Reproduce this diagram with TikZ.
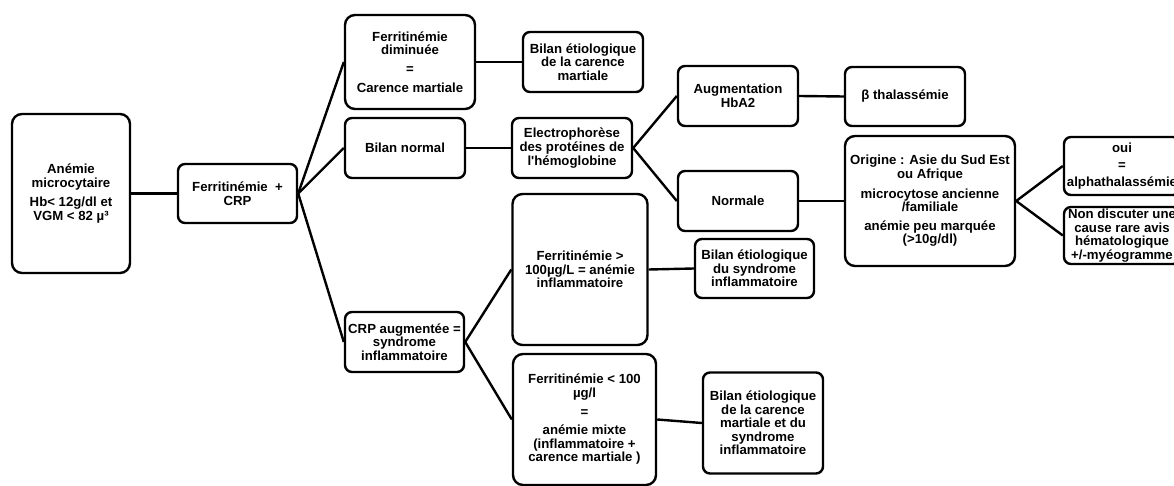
\documentclass[tikz,border=0pt]{standalone}
\usepackage{fontspec}
\setmainfont{Liberation Sans}

\begin{document}
\begin{tikzpicture}[x=1pt, y=-1pt,
  box/.style={draw, rounded corners=7pt, line width=2.4pt, align=center, inner sep=0pt,
    font=\bfseries\fontsize{13.2}{13.6}\selectfont},
  bigbox/.style={box, rounded corners=10pt},
  link/.style={line width=2.4pt}]

\clip (0,0) rectangle (1174,486);

\node[bigbox, minimum width=118, minimum height=159] (A) at (71,193.5) {Anémie\\microcytaire\\[6pt]Hb< 12g/dl et\\VGM < 82 µ³};
\node[box, minimum width=119, minimum height=59] (F) at (237.5,193.5) {Ferritinémie~ +\\CRP};


\node[bigbox, minimum width=130, minimum height=94] (F1) at (410,62) {Ferritinémie\\diminuée\\[5pt]=\\[5pt]Carence martiale};
\node[box, minimum width=120, minimum height=60] (F2) at (405,148) {Bilan normal};
\node[box, minimum width=119, minimum height=60] (F3) at (404.5,342) {CRP augmentée =\\syndrome\\inflammatoire};


\node[box, minimum width=120, minimum height=60] (B1) at (583,62) {Bilan étiologique\\de la carence\\martiale};
\node[box, minimum width=120, minimum height=60] (E) at (572,148) {Electrophorèse\\des protéines de\\l\textquotesingle hémoglobine};
\node[bigbox, minimum width=135, minimum height=151] (C1) at (580,269.5) {Ferritinémie >\\100µg/L = anémie\\inflammatoire};
\node[bigbox, minimum width=143, minimum height=131] (C2) at (584.5,419.5) {Ferritinémie < 100\\µg/l\\[5pt]=\\[5pt]anémie mixte\\(inflammatoire +\\carence martiale )};


\node[box, minimum width=120, minimum height=60] (H1) at (738,96) {Augmentation\\HbA2};
\node[box, minimum width=120, minimum height=60] (H2) at (738,201) {Normale};
\node[box, minimum width=119, minimum height=59] (D1) at (754.5,268.5) {Bilan étiologique\\du syndrome\\inflammatoire};
\node[box, minimum width=120, minimum height=101] (D2) at (763,423) {Bilan étiologique\\de la carence\\martiale et du\\syndrome\\inflammatoire};


\node[box, minimum width=120, minimum height=59] (T) at (905,96.5) {β thalassémie};
\node[bigbox, minimum width=170, minimum height=130] (O) at (930,201) {Origine : Asie du Sud Est\\ou Afrique\\[6pt]microcytose ancienne\\/familiale\\[5pt]anémie peu marquée\\(>10g/dl)};


\node[box, minimum width=116, minimum height=58] (O1) at (1122,166) {oui\\[3pt]=\\[3pt]alphathalassémie};
\node[box, minimum width=116, minimum height=57] (O2) at (1122,235.5) {Non discuter une\\cause rare avis\\hématologique\\+/-myéogramme};


\foreach \a/\b in {A/F, F/F1, F/F2, F/F3, F1/B1, F2/E, E/H1, E/H2, H1/T, H2/O,
  O/O1, O/O2, F3/C1, F3/C2, C1/D1, C2/D2}
\draw[link] (\a.east) -- (\b.west);

\end{tikzpicture}
\end{document}
